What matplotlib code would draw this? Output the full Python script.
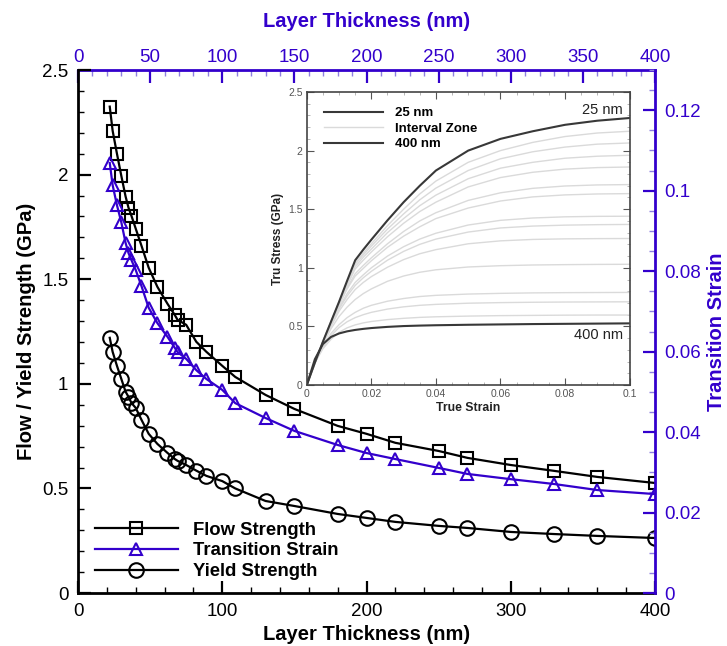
import matplotlib
matplotlib.use("Agg")
import matplotlib.pyplot as plt
from matplotlib.ticker import MultipleLocator

plt.rcParams["font.family"] = ["Liberation Sans", "DejaVu Sans"]

BLUE = "#3300cc"
LIGHT_BLUE = "#8f80e0"

# layer thickness (nm) shared by the three series
thickness = [22, 24, 27, 30, 33, 35, 37, 40, 44, 49, 55, 62, 67, 69, 75,
             82, 89, 100, 109, 130, 150, 180, 200, 220, 250, 270, 300, 330, 360, 400]
flow_strength = [2.325, 2.21, 2.10, 1.995, 1.895, 1.842, 1.804, 1.742, 1.660, 1.555,
                 1.464, 1.383, 1.330, 1.306, 1.282, 1.201, 1.153, 1.086, 1.033, 0.947,
                 0.880, 0.799, 0.761, 0.718, 0.679, 0.646, 0.612, 0.584, 0.555, 0.526]
transition_strain = [0.1069, 0.1014, 0.0964, 0.0922, 0.0870, 0.0845, 0.0828, 0.0803, 0.0763,
                     0.0709, 0.0671, 0.0637, 0.0610, 0.0599, 0.0582, 0.0554, 0.0532, 0.0505,
                     0.0472, 0.0435, 0.0403, 0.0368, 0.0348, 0.0333, 0.0311, 0.0296, 0.0283,
                     0.0271, 0.0256, 0.0246]
yield_strength = [1.220, 1.153, 1.086, 1.024, 0.962, 0.938, 0.909, 0.885, 0.828, 0.761,
                  0.713, 0.670, 0.641, 0.632, 0.612, 0.585, 0.560, 0.535, 0.500, 0.440,
                  0.416, 0.378, 0.359, 0.340, 0.321, 0.311, 0.292, 0.282, 0.273, 0.263]

# top axis ticks (nm)
top_ticks = [0, 50, 100, 150, 200, 250, 300, 350, 400]
top_minor_ticks = [t for t in range(0, 401, 10) if t % 50]

# stress-strain curves for the inset
strain = [0, 0.0025, 0.005, 0.0075, 0.01, 0.0125, 0.015, 0.0175, 0.02, 0.025,
          0.03, 0.035, 0.04, 0.05, 0.06, 0.07, 0.08, 0.09, 0.1]
stress_25nm = [0, .19, .37, .54, .71, .89, 1.065, 1.155, 1.24, 1.405,
               1.56, 1.70, 1.83, 2.00, 2.10, 2.165, 2.22, 2.255, 2.278]
stress_400nm = [0, .22, .35, .41, .44, .458, .47, .479, .486, .496,
                .503, .507, .51, .514, .517, .52, .522, .524, .526]
stress_interval = [
    [0, .19, .37, .54, .71, .88, 1.04, 1.125, 1.205, 1.36, 1.50, 1.63, 1.74, 1.90, 2.00, 2.07, 2.12, 2.15, 2.165],
    [0, .19, .37, .54, .71, .87, 1.03, 1.11, 1.185, 1.33, 1.46, 1.58, 1.68, 1.83, 1.93, 1.99, 2.03, 2.055, 2.065],
    [0, .19, .37, .54, .70, .86, 1.01, 1.09, 1.16, 1.30, 1.42, 1.53, 1.62, 1.76, 1.85, 1.90, 1.935, 1.952, 1.96],
    [0, .19, .37, .54, .70, .85, .99, 1.065, 1.135, 1.265, 1.38, 1.48, 1.56, 1.69, 1.77, 1.815, 1.842, 1.855, 1.86],
    [0, .19, .37, .53, .69, .83, .95, 1.02, 1.085, 1.205, 1.31, 1.40, 1.47, 1.575, 1.64, 1.678, 1.698, 1.707, 1.71],
    [0, .19, .37, .53, .68, .82, .93, .995, 1.06, 1.175, 1.27, 1.35, 1.42, 1.51, 1.57, 1.605, 1.622, 1.63, 1.633],
    [0, .19, .36, .52, .66, .78, .875, .94, 1.0, 1.10, 1.18, 1.245, 1.295, 1.365, 1.405, 1.425, 1.435, 1.439, 1.44],
    [0, .19, .36, .51, .65, .76, .85, .915, .97, 1.065, 1.14, 1.20, 1.245, 1.305, 1.34, 1.356, 1.364, 1.368, 1.37],
    [0, .19, .36, .50, .63, .73, .815, .875, .925, 1.005, 1.07, 1.12, 1.155, 1.205, 1.23, 1.242, 1.247, 1.249, 1.25],
    [0, .19, .35, .48, .585, .665, .73, .78, .82, .885, .93, .962, .983, 1.007, 1.018, 1.024, 1.027, 1.029, 1.03],
    [0, .19, .33, .44, .515, .575, .62, .655, .68, .715, .738, .755, .765, .776, .782, .786, .788, .789, .79],
    [0, .19, .32, .42, .49, .54, .575, .60, .62, .648, .667, .68, .688, .698, .703, .706, .708, .709, .71],
    [0, .19, .31, .39, .45, .488, .513, .53, .542, .558, .569, .577, .582, .588, .592, .594, .596, .597, .597],
]

fig = plt.figure(figsize=(7.27, 6.46), dpi=100)
ax = fig.add_axes([0.1073, 0.082, 0.7937, 0.8096])
ax_r = ax.twinx()

marker_kw = dict(markerfacecolor="none", markeredgewidth=1.5, linewidth=1.6)
l1, = ax.plot(thickness, flow_strength, color="black", marker="s", markersize=8,
              markeredgecolor="black", label="Flow Strength", **marker_kw)
l3, = ax.plot(thickness, yield_strength, color="black", marker="o", markersize=10.5,
              markeredgecolor="black", label="Yield Strength", **marker_kw)
l2, = ax_r.plot(thickness, transition_strain, color=BLUE, marker="^", markersize=8.5,
                markeredgecolor=BLUE, label="Transition Strain", **marker_kw)

ax.set_xlim(0, 400)
ax.set_ylim(0, 2.5)
ax_r.set_ylim(0, 0.13)

ax.xaxis.set_major_locator(MultipleLocator(100))
ax.xaxis.set_minor_locator(MultipleLocator(20))
ax.yaxis.set_major_locator(MultipleLocator(0.5))
ax.yaxis.set_minor_locator(MultipleLocator(0.1))
ax.yaxis.set_major_formatter(lambda v, p: f"{v:g}")
ax_r.yaxis.set_major_locator(MultipleLocator(0.02))
ax_r.yaxis.set_minor_locator(MultipleLocator(0.005))
ax_r.yaxis.set_major_formatter(lambda v, p: f"{v:g}")

ax.tick_params(axis="both", which="both", direction="in", labelsize=13.5, colors="black",
               top=False, right=False)
ax.tick_params(which="major", length=9, width=1.6, pad=7)
ax.tick_params(which="minor", length=4.5, width=1.0)
ax_r.tick_params(axis="y", which="both", direction="in", colors=BLUE, labelsize=13.5)
ax_r.tick_params(which="major", length=9, width=1.6, pad=7)
ax_r.tick_params(which="minor", length=4.5, width=1.0, color=LIGHT_BLUE)

# top axis: same thickness scale, drawn in blue
ax_t = ax.secondary_xaxis("top")
ax_t.set_xticks(top_ticks)
ax_t.set_xticks(top_minor_ticks, minor=True)
ax_t.tick_params(axis="x", which="both", direction="in", colors=BLUE, labelsize=13.5)
ax_t.tick_params(which="major", length=9, width=1.6, pad=3)
ax_t.tick_params(which="minor", length=4.5, width=1.0, color=LIGHT_BLUE)
ax_t.spines["top"].set_color(BLUE)
ax_t.spines["top"].set_linewidth(2)
ax_t.set_xlabel("Layer Thickness (nm)", fontsize=14.5, fontweight="bold", color=BLUE,
                labelpad=16)

for sp in ("left", "bottom"):
    ax.spines[sp].set_linewidth(2)
ax.spines["right"].set_visible(False)
ax.spines["top"].set_visible(False)
ax_r.spines["left"].set_visible(False)
ax_r.spines["bottom"].set_visible(False)
ax_r.spines["top"].set_visible(False)
ax_r.spines["right"].set_color(BLUE)
ax_r.spines["right"].set_linewidth(2)

ax.set_xlabel("Layer Thickness (nm)", fontsize=14.5, fontweight="bold", labelpad=4)
ax.set_ylabel("Flow / Yield Strength (GPa)", fontsize=14.5, fontweight="bold", labelpad=4)
ax_r.set_ylabel("Transition Strain", fontsize=14.5, fontweight="bold", color=BLUE,
                labelpad=4)

ax.legend(handles=[l1, l2, l3], loc="lower left", bbox_to_anchor=(0.013, 0.007),
          frameon=False, handlelength=4.5, handletextpad=0.8,
          labelspacing=0.2, borderpad=0, prop={"weight": "bold", "size": 13.3})

# inset: stress-strain response
ins = fig.add_axes([0.422, 0.404, 0.444, 0.4536])
ins.set_facecolor("white")
for curve in stress_interval:
    ins.plot(strain, curve, color="#dadada", linewidth=1.0)
h25, = ins.plot(strain, stress_25nm, color="#383838", linewidth=1.5, label="25 nm")
hint, = ins.plot([], [], color="#dadada", linewidth=1.0, label="Interval Zone")
h400, = ins.plot(strain, stress_400nm, color="#383838", linewidth=1.5, label="400 nm")
ins.set_xlim(0, 0.1)
ins.set_ylim(0, 2.5)
ins.xaxis.set_major_locator(MultipleLocator(0.02))
ins.xaxis.set_minor_locator(MultipleLocator(0.005))
ins.yaxis.set_major_locator(MultipleLocator(0.5))
ins.yaxis.set_minor_locator(MultipleLocator(0.1))
ins.xaxis.set_major_formatter(lambda v, p: f"{v:g}")
ins.yaxis.set_major_formatter(lambda v, p: f"{v:g}")
ins.tick_params(which="both", direction="in", labelsize=7.5, colors="#555555",
                top=True, right=True)
ins.tick_params(which="major", length=5, width=0.8, pad=3)
ins.tick_params(which="minor", length=2.5, width=0.6, color="#aaaaaa")
for sp in ins.spines.values():
    sp.set_color("#444444")
    sp.set_linewidth(1.2)
ins.set_xlabel("True Strain", fontsize=8.8, fontweight="bold", color="#222222", labelpad=2)
ins.set_ylabel("Tru Stress (GPa)", fontsize=8.5, fontweight="bold", color="#222222",
               labelpad=3)
ins.legend(handles=[h25, hint, h400], loc="upper left", bbox_to_anchor=(0.025, 0.98),
           frameon=False, handlelength=4.5, handletextpad=0.9, labelspacing=0.25,
           borderpad=0.2, prop={"weight": "bold", "size": 9.5})
ins.text(0.098, 2.29, "25 nm", ha="right", va="bottom", fontsize=10.5, color="#222222")
ins.text(0.098, 0.49, "400 nm", ha="right", va="top", fontsize=10.5, color="#222222")

fig.savefig("out.png", dpi=100)
